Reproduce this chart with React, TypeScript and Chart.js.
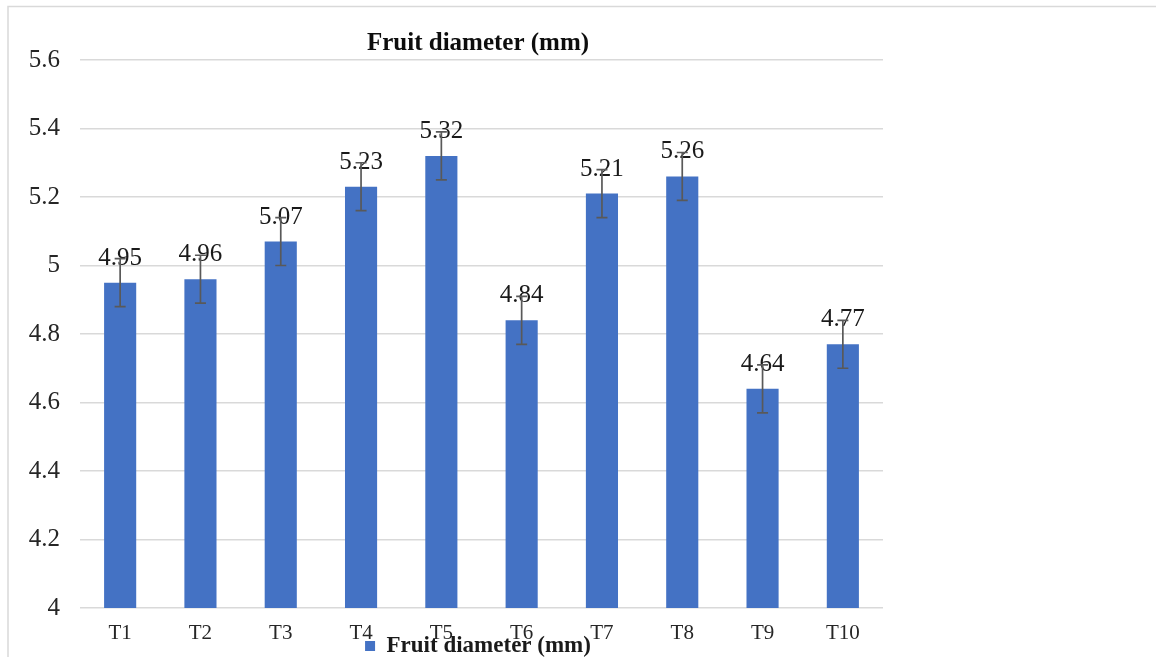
import React, { useEffect, useRef } from "react";
import { Chart, registerables } from "chart.js";

Chart.register(...registerables);

const categories = ["T1", "T2", "T3", "T4", "T5", "T6", "T7", "T8", "T9", "T10"];
const seriesName = "Fruit diameter (mm)";
const diameters = [4.95, 4.96, 5.07, 5.23, 5.32, 4.84, 5.21, 5.26, 4.64, 4.77];
const errors = [0.07, 0.07, 0.07, 0.07, 0.07, 0.07, 0.07, 0.07, 0.07, 0.07];
const dataLabels = ["4.95", "4.96", "5.07", "5.23", "5.32", "4.84", "5.21", "5.26", "4.64", "4.77"];
const yTicks = [4, 4.2, 4.4, 4.6, 4.8, 5, 5.2, 5.4, 5.6];
const yTickLabels = ["4", "4.2", "4.4", "4.6", "4.8", "5", "5.2", "5.4", "5.6"];

const SERIF = '"Liberation Serif", "Times New Roman", serif';

const framePlugin = {
  id: "frame",
  beforeDraw(chart: any) {
    const { ctx, width, height } = chart;
    ctx.save();
    ctx.fillStyle = "#ffffff";
    ctx.fillRect(0, 0, width, height);
    ctx.strokeStyle = "#d9d9d9";
    ctx.lineWidth = 1.5;
    ctx.beginPath();
    ctx.moveTo(8, height);
    ctx.lineTo(8, 6.5);
    ctx.lineTo(width, 6.5);
    ctx.stroke();
    ctx.restore();
  },
};

const errorBarPlugin = {
  id: "errorBarsAndLabels",
  afterDatasetsDraw(chart: any) {
    const meta = chart.getDatasetMeta(0);
    const yScale = chart.scales.y;
    const ctx = chart.ctx;
    ctx.save();
    ctx.font = `25px ${SERIF}`;
    ctx.fillStyle = "#1a1a1a";
    ctx.textAlign = "center";
    ctx.textBaseline = "alphabetic";
    meta.data.forEach((bar: any, i: number) => {
      ctx.fillText(dataLabels[i], bar.x, bar.y - 18);
    });
    ctx.strokeStyle = "#595959";
    ctx.lineWidth = 1.7;
    meta.data.forEach((bar: any, i: number) => {
      const top = yScale.getPixelForValue(diameters[i] + errors[i]);
      const bot = yScale.getPixelForValue(diameters[i] - errors[i]);
      const x = bar.x;
      ctx.beginPath();
      ctx.moveTo(x, top);
      ctx.lineTo(x, bot);
      ctx.moveTo(x - 5.5, top);
      ctx.lineTo(x + 5.5, top);
      ctx.moveTo(x - 5.5, bot);
      ctx.lineTo(x + 5.5, bot);
      ctx.stroke();
    });
    ctx.restore();
  },
};

export default function App() {
  const canvasRef = useRef<HTMLCanvasElement | null>(null);

  useEffect(() => {
    if (!canvasRef.current) return;
    const chart = new Chart(canvasRef.current, {
      type: "bar",
      data: {
        labels: categories,
        datasets: [
          {
            label: seriesName,
            data: diameters,
            backgroundColor: "#4472C4",
            borderWidth: 0,
            categoryPercentage: 1,
            barPercentage: 0.4,
          },
        ],
      },
      options: {
        responsive: false,
        animation: false,
        devicePixelRatio: 1,
        layout: { padding: { top: 29, left: 73, right: 273, bottom: -10.5 } },
        plugins: {
          title: {
            display: true,
            text: seriesName,
            color: "#0d0d0d",
            font: { family: SERIF, size: 25, weight: "bold" },
            padding: { top: 0, bottom: 1 },
          },
          legend: {
            display: true,
            position: "bottom",
            labels: {
              boxWidth: 10,
              boxHeight: 10,
              padding: 4,
              color: "#1a1a1a",
              font: { family: SERIF, size: 23, weight: "bold" },
            },
          },
          tooltip: { enabled: false },
        },
        scales: {
          x: {
            grid: { display: false, drawTicks: false },
            border: { display: false },
            ticks: {
              color: "#262626",
              font: { family: SERIF, size: 21 },
              padding: 12.4,
            },
            afterFit(scale: any) {
              scale.height = 22.5;
              scale._computeLabelArea = () => undefined;
            },
          },
          y: {
            min: 4,
            max: 5.6,
            grid: { color: "#d9d9d9", lineWidth: 1.5, drawTicks: false },
            border: { display: false },
            afterBuildTicks(scale: any) {
              scale.ticks = yTicks.map((v) => ({ value: v }));
            },
            ticks: {
              color: "#262626",
              font: { family: SERIF, size: 25 },
              padding: 20,
              callback: (value: any) => {
                const idx = yTicks.findIndex((t) => Math.abs(t - Number(value)) < 1e-9);
                return idx >= 0 ? yTickLabels[idx] : "";
              },
            },
            afterFit(scale: any) {
              scale.width = 7;
              scale._computeLabelArea = () => undefined;
            },
          },
        },
      },
      plugins: [framePlugin, errorBarPlugin],
    } as any);
    return () => chart.destroy();
  }, []);

  return (
    <div style={{ position: "absolute", left: 0, top: 0 }}>
      <canvas ref={canvasRef} width={1156} height={657} style={{ display: "block" }} />
    </div>
  );
}
